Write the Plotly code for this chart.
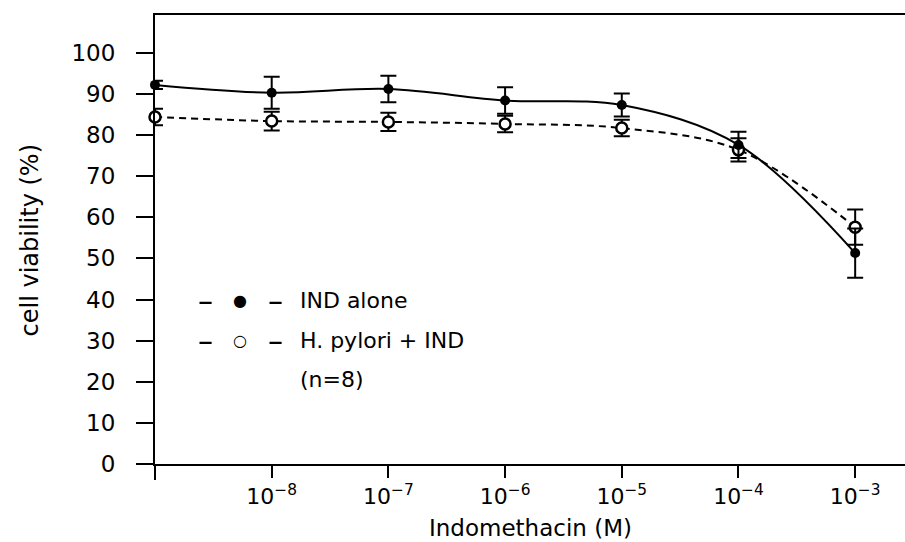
import plotly.graph_objects as go

# ---- data ----
conc_labels = ["control", "1e-8", "1e-7", "1e-6", "1e-5", "1e-4", "1e-3"]
conc = [1e-9, 1e-8, 1e-7, 1e-6, 1e-5, 1e-4, 1e-3]  # control is drawn on the y axis
ind_alone = [92.2, 90.3, 91.2, 88.4, 87.3, 77.6, 51.3]
ind_alone_err = [1.0, 3.9, 3.2, 3.2, 2.8, 3.2, 6.0]
hp_ind = [84.4, 83.4, 83.2, 82.7, 81.7, 76.4, 57.6]
hp_ind_err = [2.0, 2.3, 2.2, 2.0, 2.0, 2.8, 4.3]
y_tick_vals = [0, 10, 20, 30, 40, 50, 60, 70, 80, 90, 100]
x_tick_vals = [1e-8, 1e-7, 1e-6, 1e-5, 1e-4, 1e-3]
x_tick_text = ["10<sup>\u22128</sup>", "10<sup>\u22127</sup>", "10<sup>\u22126</sup>",
               "10<sup>\u22125</sup>", "10<sup>\u22124</sup>", "10<sup>\u22123</sup>"]
legend_rows = [("\u25cf", "IND alone"), ("\u25cb", "H. pylori + IND"), ("", "(n=8)")]

FONT = "DejaVu Sans"
W, H = 905, 542
L, R, T, B = 155, 0, 15, 78
PW, PH = W - L - R, H - T - B


def px_x(px):
    return (px - L) / PW


def px_y(py):
    return (H - B - py) / PH


fig = go.Figure()

fig.add_trace(go.Scatter(
    x=conc, y=hp_ind, mode="lines+markers", name="H. pylori + IND",
    line=dict(color="black", width=2, dash="7px,5px", shape="spline", smoothing=1.0),
    marker=dict(symbol="circle", size=11, color="white", line=dict(color="black", width=2.5)),
    error_y=dict(type="data", array=hp_ind_err, visible=True, color="black", thickness=2, width=8),
    cliponaxis=False, showlegend=False,
))
fig.add_trace(go.Scatter(
    x=conc, y=ind_alone, mode="lines+markers", name="IND alone",
    line=dict(color="black", width=2, shape="spline", smoothing=1.0),
    marker=dict(symbol="circle", size=10, color="black"),
    error_y=dict(type="data", array=ind_alone_err, visible=True, color="black", thickness=2, width=8),
    cliponaxis=False, showlegend=False,
))

annotations = []
# axis titles
annotations.append(dict(text="cell viability (%)", xref="paper", yref="paper",
                        x=px_x(29), y=0.5, textangle=-90, showarrow=False,
                        xanchor="center", yanchor="middle",
                        font=dict(family=FONT, size=24, color="black")))
annotations.append(dict(text="Indomethacin (M)", xref="paper", yref="paper",
                        x=0.5, y=px_y(528), showarrow=False,
                        xanchor="center", yanchor="middle",
                        font=dict(family=FONT, size=23, color="black")))

# legend block written as text
row_y = [300, 340, 379]
for (sym, label), py in zip(legend_rows, row_y):
    if sym:
        annotations.append(dict(text="\u2013", xref="paper", yref="paper", x=px_x(205), y=px_y(py),
                                showarrow=False, xanchor="center", yanchor="middle",
                                font=dict(family=FONT, size=30, color="black")))
        annotations.append(dict(text=sym, xref="paper", yref="paper", x=px_x(240), y=px_y(py),
                                showarrow=False, xanchor="center", yanchor="middle",
                                font=dict(family=FONT, size=16, color="black")))
        annotations.append(dict(text="\u2013", xref="paper", yref="paper", x=px_x(275), y=px_y(py),
                                showarrow=False, xanchor="center", yanchor="middle",
                                font=dict(family=FONT, size=30, color="black")))
    annotations.append(dict(text=label, xref="paper", yref="paper", x=px_x(298), y=px_y(py),
                            showarrow=False, xanchor="left", yanchor="middle",
                            font=dict(family=FONT, size=22, color="black")))

fig.update_layout(
    width=W, height=H,
    margin=dict(l=L, r=R, t=T, b=B, pad=0),
    paper_bgcolor="white", plot_bgcolor="white",
    showlegend=False,
    font=dict(family=FONT, size=22, color="black"),
    annotations=annotations,
    shapes=[dict(type="line", xref="paper", yref="paper", x0=0, x1=0, y0=0, y1=-16 / PH,
                 line=dict(color="black", width=2))],
)
fig.update_xaxes(
    type="log", range=[-9, -2.573], showgrid=False, zeroline=False,
    showline=True, linecolor="black", linewidth=2, mirror=True,
    tickmode="array", tickvals=x_tick_vals, ticktext=x_tick_text,
    ticks="outside", ticklen=12, tickwidth=2, tickcolor="black",
    ticklabelstandoff=0,
    tickfont=dict(family=FONT, size=22, color="black"),
)
fig.update_yaxes(
    range=[0, 109.2], showgrid=False, zeroline=False,
    showline=True, linecolor="black", linewidth=2,
    tickmode="array", tickvals=y_tick_vals,
    ticks="outside", ticklen=17, tickwidth=2, tickcolor="black",
    ticklabelstandoff=16,
    tickfont=dict(family=FONT, size=23, color="black"),
)

fig.write_html("out.html")
